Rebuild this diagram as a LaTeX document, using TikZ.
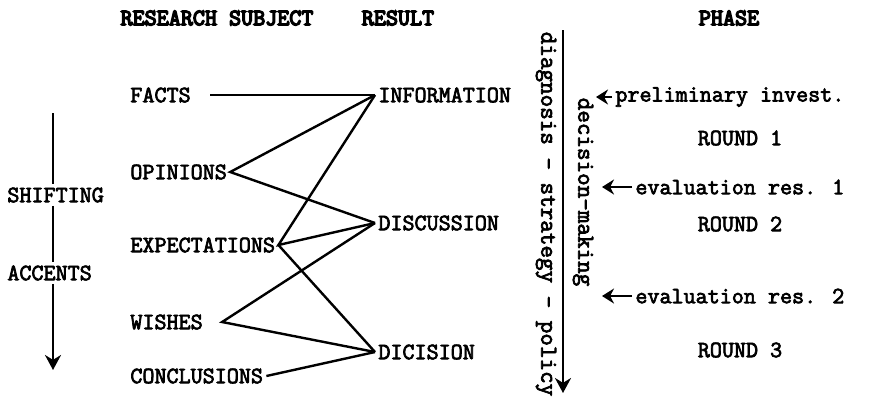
\documentclass[tikz,border=0pt]{standalone}
\usepackage{fontspec}
\newfontfamily\typer{Latin Modern Mono}[FakeBold=3]
\newfontfamily\typerbold{Latin Modern Mono}[FakeBold=6]
\usetikzlibrary{arrows.meta,positioning}

\begin{document}
\begin{tikzpicture}[
  x=0.5pt, y=-0.5pt,
  every node/.style={font=\typer\fontsize{11.7}{14}\selectfont, inner sep=1.5pt},
  head/.style={font=\typerbold\fontsize{11.7}{14}\selectfont},
  item/.style={anchor=west},
  upright/.style={rotate=-90, font=\typer\fontsize{12.2}{14}\selectfont},
  link/.style={line width=1.2pt},
  flow/.style={line width=1.2pt, -{Stealth[length=7.5pt,width=8pt]}},
  hint/.style={line width=1.2pt, -{Stealth[length=6pt,width=7.5pt]}}
]
\useasboundingbox (0,0) rectangle (877,404);

% column heads
\node[head] (hsubj) at (217,18) {RESEARCH SUBJECT};
\node[head] (hres) at (398,18) {RESULT};
\node[head] (hphase) at (729,18) {PHASE};

% research subjects
\node[item] (facts) at (127,95) {FACTS};
\node[item] (opin) at (127,172) {OPINIONS};
\node[item] (expect) at (127,245) {EXPECTATIONS};
\node[item] (wish) at (127,322) {WISHES};
\node[item] (concl) at (127,376) {CONCLUSIONS};

% results
\node[item] (info) at (375,95) {INFORMATION};
\node[item] (disc) at (375,223) {DISCUSSION};
\node[item] (dcis) at (375,352) {DICISION};

\draw[link] ([xshift=8pt]facts.east) -- (info.west);
\draw[link] (info.west) -- (opin.east) -- (disc.west);
\draw[link] (info.west) -- (expect.east) -- (disc.west);
\draw[link] (expect.east) -- (dcis.west);
\draw[link] (disc.west) -- ([xshift=8pt]wish.east) -- (dcis.west);
\draw[link] (concl.east) -- (dcis.west);

% shifting accents
\node[item] (shift) at (4,195) {SHIFTING};
\node[item] (accent) at (4,273) {ACCENTS};
\coordinate (atop) at (53,113);
\coordinate (abot) at (53,370);
\draw[link] (atop) -- (atop |- shift.north);
\draw[link] (shift.south -| atop) -- (accent.north -| atop);
\draw[flow] (accent.south -| atop) -- (abot);

% diagnosis - policy
\coordinate (dtop) at (563,30);
\coordinate (dbot) at (563,393);
\draw[flow] (dtop) -- (dbot);
\node[upright] (dsp) at (546,214) {diagnosis - strategy - policy};
\node[upright] (dmk) at (583,192) {decision-making};

% phases
\node[item] (prelim) at (612,97) {preliminary invest.};
\node (round1) at (740,138) {ROUND 1};
\node[item] (eval1) at (632,187) {evaluation res. 1};
\node (round2) at (740,224) {ROUND 2};
\node[item] (eval2) at (632,296) {evaluation res. 2};
\node (round3) at (740,350) {ROUND 3};
\coordinate (ptip) at (596,97);
\coordinate (e1tip) at (602,187);
\coordinate (e2tip) at (602,296);
\draw[hint] (prelim.west) -- (ptip);
\draw[hint] (eval1.west) -- (e1tip);
\draw[hint] (eval2.west) -- (e2tip);
\end{tikzpicture}
\end{document}
